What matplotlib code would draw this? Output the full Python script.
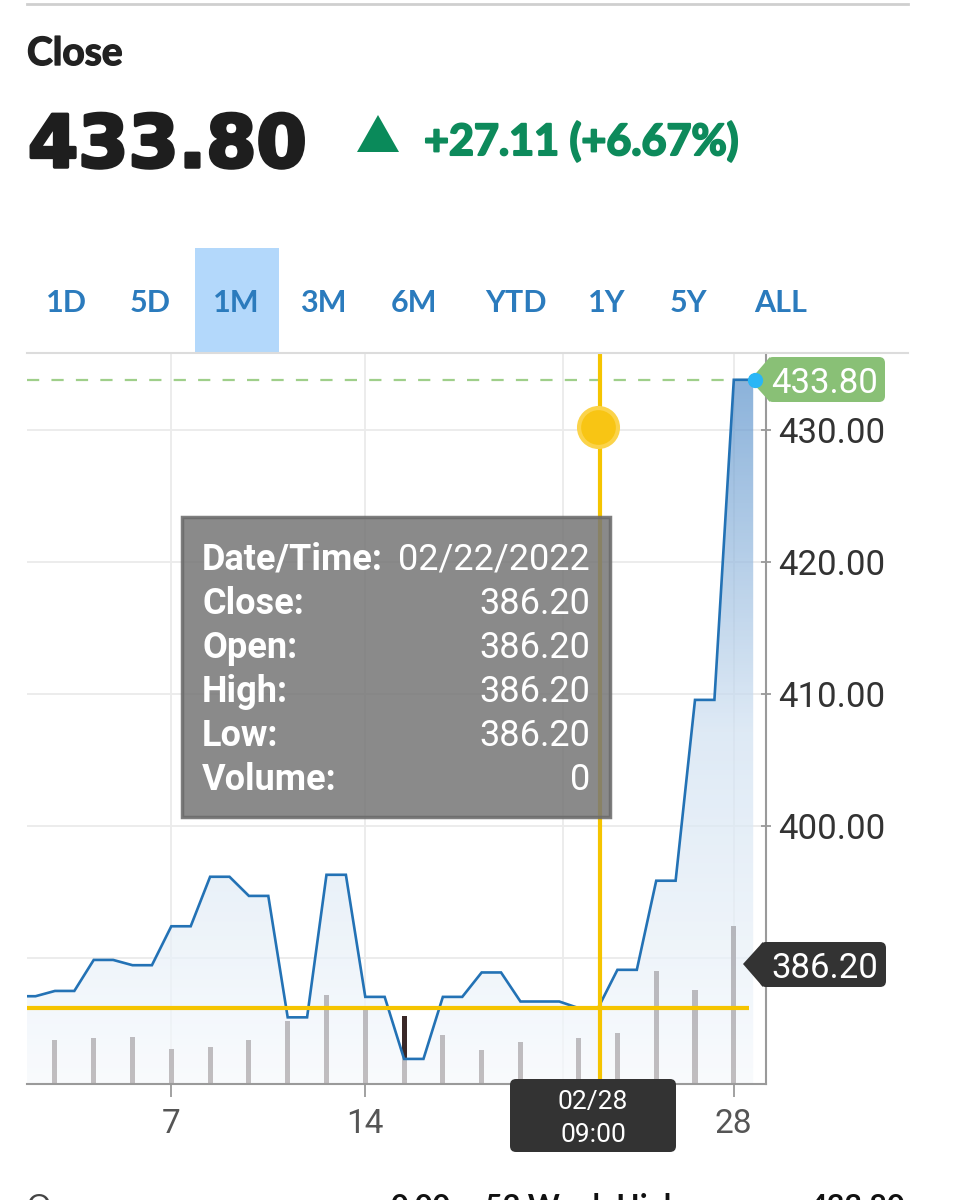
import numpy as np
import matplotlib.pyplot as plt
import matplotlib.transforms as mtransforms
import matplotlib.patheffects as pe
from matplotlib.patches import Rectangle, FancyBboxPatch, Polygon
from matplotlib.colors import LinearSegmentedColormap

# close price path, two points per trading session (session index on x)
line_x = [0.0, 0.5, 1.0, 1.5, 2.0, 2.5, 3.0, 3.5, 4.0, 4.5, 5.0, 5.5, 6.0, 6.5,
          7.0, 7.5, 8.0, 8.5, 9.0, 9.5, 10.0, 10.5, 11.0, 11.5, 12.0, 12.5,
          13.0, 14.0, 14.5, 15.0, 15.5, 16.0, 16.5, 17.0, 17.5, 18.0, 18.5, 19.0]
line_y = [387.1, 387.1, 387.5, 387.5, 389.85, 389.85, 389.45, 389.45, 392.4, 392.4,
          396.15, 396.15, 394.7, 394.7, 385.5, 385.5, 396.3, 396.3, 387.05, 387.05,
          382.35, 382.35, 387.05, 387.05, 388.9, 388.9, 386.7, 386.7, 386.2, 386.2,
          389.1, 389.1, 395.85, 395.85, 409.55, 409.55, 433.8, 433.8]

# volume per session
bar_x = [1, 2, 3, 4, 5, 6, 7, 8, 9, 10, 11, 12, 13, 14.5, 15.5, 16.5, 17.5, 18.5]
volume = [44, 46, 47, 35, 37, 44, 63, 89, 77, 68, 49, 34, 42, 46, 51, 113, 94, 158]
vol_max = 731

tick_pos = [4, 9, 14.1, 18.5]
tick_labels = ['7', '14', '', '28']   # 21 sits under the crosshair date tag
y_ticks = [390, 400, 410, 420, 430]
y_labels = ['', '400.00', '410.00', '420.00', '430.00']   # 390 hidden by price tag

last_close = 433.80
cross_x = 15.05
cross_y = 386.20
periods = ['1D', '5D', '1M', '3M', '6M', 'YTD', '1Y', '5Y', 'ALL']
period_x = [66, 150, 236, 323, 414, 516, 607, 688, 781]
tip_rows = [('Date/Time:', '02/22/2022'), ('Close:', '386.20'), ('Open:', '386.20'),
            ('High:', '386.20'), ('Low:', '386.20'), ('Volume:', '0')]

W, H = 961, 1200
fig = plt.figure(figsize=(W / 100, H / 100), dpi=100)
fig.patch.set_facecolor('white')
P = mtransforms.IdentityTransform()
RB = 'Roboto'
YEL = '#f5c400'

def Y(y):
    return H - y

x0, x1 = 0.28, 19.33
y0, y1 = 380.45, 435.83
ax = fig.add_axes([27 / W, 1 - 1084 / H, (766 - 27) / W, (1084 - 353) / H])
ax.set_xlim(x0, x1)
ax.set_ylim(y0, y1)
ax.set_facecolor('white')

# grid
for v in y_ticks:
    ax.axhline(v, color='#ebebeb', lw=1.3, zorder=0.5)
for t in tick_pos:
    ax.axvline(t, color='#ebebeb', lw=1.3, zorder=0.5)

# volume bars (dark, seen through the fill)
k = (y1 - y0) / vol_max
ax.bar(bar_x, [v * k for v in volume], bottom=y0, width=0.13, color='#3a2828', zorder=1)

# gradient area under the line
cmap = LinearSegmentedColormap.from_list('g', ['#f7fafd', '#d2e2f2', '#5f95cd'])
grad = np.linspace(0, 1, 256).reshape(-1, 1)
im = ax.imshow(grad, extent=[x0, x1, y0, last_close], origin='lower', cmap=cmap,
               aspect='auto', alpha=0.72, zorder=2)
poly = ax.fill_between(line_x, line_y, y0, facecolor='none', edgecolor='none')
im.set_clip_path(poly.get_paths()[0], transform=ax.transData)

ax.plot(line_x, line_y, color='#2372b5', lw=1.9, zorder=3, solid_joinstyle='miter')

# last price dashed line
ax.hlines(last_close, x0, 18.9, color='#9fcf8a', lw=1.6, linestyles=(0, (5.5, 5.5)), zorder=2.5)

# crosshair
ax.axvline(cross_x, color=YEL, lw=3, zorder=4)
ax.hlines(cross_y, x0, 18.9, color=YEL, lw=3, zorder=4)
ax.plot(15.0, 430.2, 'o', ms=28, color='#f8c514', mec='#fbd34a', mew=3, zorder=5)

# axes styling
for s in ['left', 'top']:
    ax.spines[s].set_visible(False)
for s in ['right', 'bottom']:
    ax.spines[s].set_color('#9a9a9a')
    ax.spines[s].set_linewidth(1.5)
ax.yaxis.tick_right()
ax.set_yticks(y_ticks)
ax.set_yticklabels(y_labels)
ax.tick_params(axis='y', direction='inout', length=7.5, width=1.3, color='#9a9a9a',
               pad=5, labelsize=25, labelcolor='#333333')
ax.set_xticks(tick_pos)
ax.set_xticklabels(tick_labels)
ax.tick_params(axis='x', direction='out', length=9.5, width=1.3, color='#9a9a9a',
               pad=8, labelsize=24, labelcolor='#555555')
for lab in ax.get_xticklabels() + ax.get_yticklabels():
    lab.set_family(RB)

# top line of chart area extends past axis
fig.add_artist(plt.Line2D([27, 908], [Y(353), Y(353)], transform=P, color='#dcdcdc', lw=1.5))
# header separator
fig.add_artist(plt.Line2D([27, 908], [Y(4), Y(4)], transform=P, color='#cfcfcf', lw=2))

# tooltip
fig.add_artist(Rectangle((182, Y(817)), 428, 300, transform=P, facecolor='#777777',
                         edgecolor='#6a6a6a', lw=2.5, alpha=0.86, zorder=5))
for i, (lab, val) in enumerate(tip_rows):
    yb = Y(570 + 44 * i)
    fig.text(202, yb, lab, transform=P, family=RB, weight='bold', fontsize=26,
             color='white', va='baseline', ha='left', zorder=6)
    fig.text(590, yb, val, transform=P, family=RB, fontsize=26,
             color='white', va='baseline', ha='right', zorder=6)

# last price tag (green)
fig.add_artist(FancyBboxPatch((767, Y(402)), 118, 45, transform=P,
                              boxstyle='round,pad=0,rounding_size=6',
                              facecolor='#89c076', edgecolor='none', zorder=5))
fig.add_artist(Polygon([[770, Y(357)], [750, Y(380)], [770, Y(402)]], closed=True,
                       transform=P, facecolor='#89c076', edgecolor='none', zorder=5))
fig.text(825, Y(380), f'{last_close:.2f}', transform=P, family=RB, fontsize=25,
         color='white', ha='center', va='center_baseline', zorder=6)
fig.add_artist(plt.Line2D([755], [Y(380)], transform=P, marker='o', ms=10,
                          color='#29b6f6', zorder=7))

# crosshair price tag (dark)
fig.add_artist(FancyBboxPatch((760, Y(987)), 126, 45, transform=P,
                              boxstyle='round,pad=0,rounding_size=6',
                              facecolor='#333333', edgecolor='none', zorder=5))
fig.add_artist(Polygon([[763, Y(942)], [743, Y(964)], [763, Y(987)]], closed=True,
                       transform=P, facecolor='#333333', edgecolor='none', zorder=5))
fig.text(825, Y(965), f'{cross_y:.2f}', transform=P, family=RB, fontsize=25,
         color='white', ha='center', va='center_baseline', zorder=6)

# crosshair date tag
fig.add_artist(FancyBboxPatch((510, Y(1152)), 166, 73, transform=P,
                              boxstyle='round,pad=0,rounding_size=6',
                              facecolor='#333333', edgecolor='none', zorder=5))
fig.text(593, Y(1099), '02/28', transform=P, family=RB, fontsize=19,
         color='white', ha='center', va='center_baseline', zorder=6)
fig.text(593, Y(1133), '09:00', transform=P, family=RB, fontsize=19,
         color='white', ha='center', va='center_baseline', zorder=6)

# header
HF = 'Lato'
fig.text(27, Y(65), 'Close', transform=P, family=HF, weight='bold', fontsize=28,
         color='#222222', va='baseline',
         path_effects=[pe.withStroke(linewidth=1, foreground='#222222')])
fig.text(28, Y(167), f'{last_close:.2f}', transform=P, family='DejaVu Sans', weight='bold',
         fontsize=52, color='#1e1e1e', va='baseline',
         path_effects=[pe.withStroke(linewidth=2.5, foreground='#1e1e1e')])
fig.add_artist(Polygon([[357, Y(152)], [399, Y(152)], [378, Y(115)]], closed=True,
                       transform=P, facecolor='#0a8a5a', edgecolor='none'))
fig.text(424, Y(155), '+27.11 (+6.67%)', transform=P, family=HF, weight='bold',
         fontsize=31, color='#0d8a5b', va='baseline',
         path_effects=[pe.withStroke(linewidth=1.5, foreground='#0d8a5b')])

# period selector
fig.add_artist(Rectangle((195, Y(352)), 84, 104, transform=P, facecolor='#b3d8fb',
                         edgecolor='none', zorder=0))
for lab, px in zip(periods, period_x):
    fig.text(px, Y(312), lab, transform=P, family=HF, weight='bold', fontsize=22,
             color='#2b7bbd', ha='center', va='baseline', zorder=1)

# cut-off stats row at bottom
fig.text(27, Y(1216), 'Open', transform=P, family=HF, fontsize=22, color='#444444', va='baseline')
fig.text(450, Y(1216), '0.00', transform=P, family=HF, weight='bold', fontsize=22,
         color='#111111', va='baseline', ha='right')
fig.text(485, Y(1216), '52 Week High', transform=P, family=HF, weight='bold', fontsize=22,
         color='#111111', va='baseline')
fig.text(905, Y(1216), '433.80', transform=P, family=HF, weight='bold', fontsize=22,
         color='#111111', va='baseline', ha='right')

fig.savefig('out.png', dpi=100, facecolor='white')
